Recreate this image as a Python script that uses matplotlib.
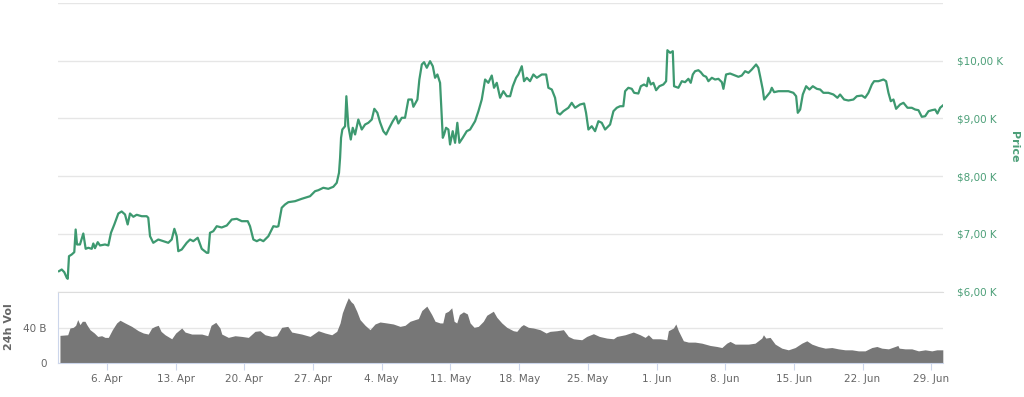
import pandas as pd
from matplotlib import pyplot as plt

# price series (days since 2020-04-01, USD)
price_days = [
    0.10, 0.38, 0.64, 0.89, 0.99, 1.12, 1.40, 1.66, 1.80, 1.94, 2.24, 2.58, 2.82, 3.09,
    3.44, 3.60, 3.77, 4.05, 4.28, 4.79, 5.13, 5.40, 5.74, 6.15, 6.49, 6.83, 7.10, 7.34,
    7.68, 8.02, 8.53, 9.04, 9.20, 9.38, 9.71, 10.22, 10.73, 11.24, 11.59, 11.86, 12.10,
    12.26, 12.61, 13.12, 13.46, 13.79, 14.24, 14.65, 15.16, 15.32, 15.49, 15.83, 16.18,
    16.68, 17.20, 17.71, 18.22, 18.73, 19.34, 19.57, 19.91, 20.26, 20.59, 20.93, 21.44,
    21.95, 22.29, 22.46, 22.80, 23.14, 23.48, 24.16, 24.84, 25.18, 25.69, 26.20, 26.53,
    27.04, 27.55, 28.06, 28.41, 28.64, 28.75, 28.85, 28.98, 29.26, 29.39, 29.59, 29.84,
    30.04, 30.28, 30.61, 30.96, 31.30, 31.63, 31.98, 32.24, 32.55, 32.82, 33.16, 33.44,
    33.77, 34.12, 34.45, 34.69, 35.04, 35.37, 35.71, 36.06, 36.22, 36.63, 36.83, 37.08,
    37.31, 37.59, 37.92, 38.20, 38.43, 38.67, 38.94, 39.22, 39.35, 39.55, 39.79, 39.96,
    40.23, 40.47, 40.70, 40.91, 41.25, 41.66, 42.00, 42.51, 42.85, 43.19, 43.53, 43.86,
    44.21, 44.44, 44.72, 45.06, 45.39, 45.74, 46.08, 46.35, 46.69, 46.92, 47.27, 47.50,
    47.78, 48.11, 48.45, 48.80, 49.31, 49.75, 49.98, 50.33, 50.66, 50.90, 51.17, 51.51,
    52.02, 52.36, 52.70, 53.21, 53.62, 53.82, 54.06, 54.40, 54.74, 55.08, 55.42, 55.76,
    56.27, 56.61, 56.95, 57.29, 57.62, 57.80, 58.13, 58.48, 58.72, 59.15, 59.40, 59.73,
    60.01, 60.17, 60.42, 60.68, 60.96, 61.29, 61.70, 61.98, 62.11, 62.39, 62.66, 62.79,
    63.23, 63.58, 63.91, 64.25, 64.49, 64.70, 64.93, 65.27, 65.51, 65.78, 66.06, 66.29,
    66.64, 66.97, 67.31, 67.66, 67.82, 68.09, 68.50, 69.01, 69.35, 69.69, 70.03, 70.37,
    70.71, 71.15, 71.38, 71.56, 71.83, 71.97, 72.24, 72.58, 72.75, 72.99, 73.43, 73.94,
    74.44, 74.95, 75.23, 75.40, 75.64, 75.91, 76.25, 76.59, 76.93, 77.34, 77.68, 78.01,
    78.52, 79.03, 79.44, 79.71, 80.12, 80.56, 81.07, 81.42, 81.93, 82.26, 82.60, 82.95,
    83.18, 83.62, 84.13, 84.40, 84.64, 84.88, 85.15, 85.42, 85.83, 86.17, 86.58, 87.02,
    87.36, 87.70, 88.04, 88.38, 88.72, 89.06, 89.40, 89.63, 89.91, 90.18,
]
price = [
    6355, 6384, 6338, 6241, 6223, 6614, 6644, 6684, 7076, 6817, 6817, 7007, 6742, 6760,
    6742, 6834, 6753, 6857, 6800, 6817, 6800, 7019, 7163, 7353, 7388, 7336, 7163, 7353,
    7296, 7331, 7306, 7306, 7279, 6960, 6846, 6903, 6874, 6846, 6903, 7088, 6960,
    6701, 6730, 6846, 6903, 6874, 6933, 6742, 6673, 6673, 7019, 7047, 7133,
    7111, 7145, 7249, 7261, 7220, 7220, 7133, 6903, 6874, 6903, 6874, 6960,
    7133, 7123, 7133, 7452, 7509, 7549, 7566, 7607, 7625, 7652, 7739, 7756,
    7798, 7780, 7815, 7884, 8057, 8317, 8663, 8806, 8863, 9382, 8863, 8633,
    8836, 8720, 8979, 8806, 8893, 8922, 8979, 9164, 9095, 8933, 8777, 8720,
    8836, 8950, 9036, 8910, 9009, 9009, 9325, 9325, 9199, 9325, 9671, 9931,
    9971, 9874, 9988, 9901, 9701, 9758, 9614, 8663, 8720, 8836, 8806, 8547,
    8777, 8576, 8922, 8576, 8663, 8777, 8806, 8950, 9123, 9325, 9671, 9614,
    9740, 9528, 9614, 9355, 9469, 9382, 9382, 9555, 9701, 9758, 9901, 9642,
    9701, 9642, 9758, 9701, 9758, 9758, 9528, 9498, 9355, 9095, 9066, 9123,
    9182, 9268, 9182, 9239, 9256, 9095, 8806, 8863, 8777, 8950, 8922, 8806,
    8893, 9123, 9182, 9209, 9209, 9469, 9528, 9510, 9441, 9429, 9555, 9585,
    9555, 9701, 9585, 9614, 9486, 9555, 9585, 9642, 10178, 10133, 10161, 9555,
    9528, 9642, 9625, 9683, 9614, 9758, 9815, 9832, 9798, 9740, 9718, 9642,
    9701, 9671, 9683, 9625, 9510, 9758, 9775, 9740, 9718, 9740, 9815, 9787,
    9844, 9931, 9874, 9728, 9498, 9325, 9382, 9452, 9528, 9452, 9469, 9469,
    9469, 9441, 9382, 9095, 9152, 9412, 9555, 9498, 9555, 9510, 9498, 9441,
    9441, 9412, 9355, 9412, 9325, 9308, 9325, 9382, 9394, 9355, 9441, 9585,
    9642, 9642, 9671, 9642, 9441, 9296, 9325, 9164, 9239, 9268, 9182, 9182,
    9152, 9140, 9026, 9036, 9123, 9140, 9152, 9083, 9182, 9221,
]

# 24h volume, billions USD
vol_days = [
    0.20, 0.99, 1.22, 1.56, 1.80, 2.01, 2.24, 2.48, 2.75, 2.93, 3.26, 3.70, 4.05, 4.45,
    4.79, 5.13, 5.54, 5.98, 6.32, 6.83, 7.51, 8.19, 8.70, 9.20, 9.55, 9.89, 10.22, 10.50,
    10.91, 11.59, 12.00, 12.61, 12.95, 13.63, 14.65, 15.26, 15.60, 16.08, 16.51, 16.69,
    17.36, 18.04, 18.73, 19.40, 20.08, 20.59, 21.10, 21.78, 22.29, 22.80, 23.42, 23.82,
    24.84, 25.69, 26.53, 27.22, 27.90, 28.41, 28.75, 28.98, 29.33, 29.59, 29.87, 30.10,
    30.45, 30.78, 31.30, 31.80, 32.31, 32.82, 33.51, 34.18, 34.86, 35.37, 35.88, 36.39,
    36.73, 37.08, 37.59, 38.09, 38.43, 38.94, 39.22, 39.45, 39.79, 40.13, 40.37, 40.64,
    40.91, 41.32, 41.72, 42.00, 42.41, 42.84, 43.35, 43.70, 44.37, 44.72, 45.23, 45.74,
    46.41, 46.76, 47.17, 47.43, 47.94, 48.45, 49.13, 49.75, 50.15, 50.84, 51.51, 52.02,
    52.53, 53.38, 53.89, 54.57, 55.18, 55.93, 56.61, 56.95, 57.80, 58.64, 59.33, 59.84,
    60.17, 60.58, 61.37, 62.05, 62.21, 62.72, 62.97, 63.23, 63.74, 64.25, 64.93, 65.62,
    66.46, 67.15, 67.66, 68.16, 68.50, 69.01, 69.69, 70.37, 71.05, 71.73, 71.90, 72.14,
    72.58, 73.09, 73.77, 74.44, 75.13, 75.81, 76.32, 76.83, 77.50, 78.19, 78.87, 79.54,
    80.22, 80.91, 81.58, 82.26, 82.95, 83.46, 83.96, 84.64, 85.32, 85.60, 85.73, 86.34,
    87.02, 87.70, 88.38, 89.06, 89.57, 90.18,
]
volume = [
    31.9, 32.6, 40.3, 41.1, 43.4, 49.9, 44.2, 48.0, 48.0, 44.2, 38.4, 34.6, 30.7, 31.5,
    29.6, 29.6, 38.4, 46.1, 49.2, 46.1, 42.2, 37.2, 34.6, 33.4, 40.3, 42.2, 43.4, 36.5,
    32.6, 28.0, 34.6, 40.3, 35.7, 33.4, 33.4, 31.5, 43.4, 46.8, 40.3, 33.4,
    29.6, 31.5, 30.7, 29.6, 36.5, 37.2, 32.6, 30.7, 31.5, 41.1, 42.2, 35.7,
    33.4, 30.7, 37.2, 34.6, 32.6, 36.5, 46.1, 57.6, 68.0, 74.9, 70.3, 68.0,
    59.5, 49.9, 43.4, 38.4, 44.9, 47.2, 46.1, 44.9, 42.2, 43.4, 48.0, 49.9,
    51.1, 60.3, 65.3, 55.7, 48.0, 46.1, 46.1, 57.6, 59.5, 63.4, 48.0, 46.1,
    55.7, 58.8, 56.4, 46.1, 41.1, 42.2, 48.0, 54.9, 59.5, 52.6, 46.1, 41.1,
    37.2, 36.5, 42.2, 44.2, 41.1, 40.3, 38.4, 34.6, 36.5, 37.2, 38.4, 30.7,
    28.0, 26.9, 30.7, 33.8, 30.7, 28.8, 28.0, 30.7, 32.6, 35.7, 32.6, 29.6,
    32.6, 28.0, 28.0, 26.9, 37.2, 40.3, 44.9, 37.2, 25.7, 24.2, 24.2, 23.0,
    20.4, 19.2, 18.0, 23.0, 25.0, 21.9, 21.9, 21.9, 23.0, 28.8, 32.6, 28.8,
    29.6, 21.9, 17.3, 15.4, 18.0, 23.0, 25.7, 21.9, 19.2, 17.3, 18.0, 16.5,
    15.4, 15.4, 14.2, 14.2, 18.0, 19.2, 17.3, 16.5, 19.2, 20.4, 17.3, 16.5,
    16.5, 14.2, 15.4, 14.2, 15.4, 15.4,
]

price_ticks = [6000, 7000, 8000, 9000, 10000, 11000]
price_labels = ["$6,00 K", "$7,00 K", "$8,00 K", "$9,00 K", "$10,00 K", ""]
vol_ticks = [0, 40]
vol_labels = ["0", "40 B"]
date_ticks = pd.date_range("2020-04-06", "2020-06-29", freq="7D")

start = pd.Timestamp("2020-04-01")
price_dates = start + pd.to_timedelta(price_days, unit="D")
vol_dates = start + pd.to_timedelta(vol_days, unit="D")
x_end = start + pd.Timedelta(days=90.2)

GREEN = "#3d9970"
LABEL_GREEN = "#4c9f78"
GRAY_TEXT = "#666666"
GRID = "#e6e6e6"
AXIS = "#ccd6eb"

plt.rcParams["font.family"] = "DejaVu Sans"
fig = plt.figure(figsize=(10.24, 3.97), dpi=100)

# price pane
ax = fig.add_axes([58 / 1024, 1 - 291.7 / 397, 885 / 1024, 289 / 397])
ax.plot(price_dates, price, color=GREEN, lw=1.6, solid_joinstyle="round")
ax.set_xlim(start, x_end)
ax.set_ylim(6000, 11000)
ax.set_yticks(price_ticks)
ax.set_yticklabels(price_labels)
ax.yaxis.tick_right()
ax.tick_params(axis="y", length=0, pad=10, labelsize=7.5, labelcolor=LABEL_GREEN)
ax.set_xticks([])
ax.grid(axis="y", color=GRID, lw=1)
ax.set_axisbelow(True)
for s in ax.spines.values():
    s.set_visible(False)
fig.text(1014 / 1024, 1 - 147 / 397, "Price", rotation=270, color=LABEL_GREEN,
         fontsize=8, fontweight="bold", ha="center", va="center")

# volume pane
vx = fig.add_axes([58 / 1024, 1 - 363.3 / 397, 885 / 1024, 71.6 / 397])
vx.fill_between(vol_dates, volume, 0, color="#777777", lw=0)
vx.set_xlim(start, x_end)
vx.set_ylim(0, 81.8)
vx.set_yticks(vol_ticks)
vx.set_yticklabels(vol_labels)
vx.tick_params(axis="y", length=0, pad=8, labelsize=7.5, labelcolor=GRAY_TEXT)
vx.set_xticks(date_ticks)
vx.set_xticklabels([f"{d.day}. {d.strftime('%b')}" for d in date_ticks])
vx.tick_params(axis="x", length=5, color=AXIS, pad=3, labelsize=7.5, labelcolor=GRAY_TEXT)
vx.grid(axis="y", color=GRID, lw=1)
vx.set_axisbelow(True)
vx.spines["right"].set_visible(False)
vx.spines["top"].set_color("#dddddd")
vx.spines["left"].set_color(AXIS)
vx.spines["bottom"].set_color(AXIS)
fig.text(9 / 1024, 1 - 327 / 397, "24h Vol", rotation=90, color=GRAY_TEXT,
         fontsize=8, fontweight="bold", ha="center", va="center")

fig.savefig("out.png", dpi=100)
